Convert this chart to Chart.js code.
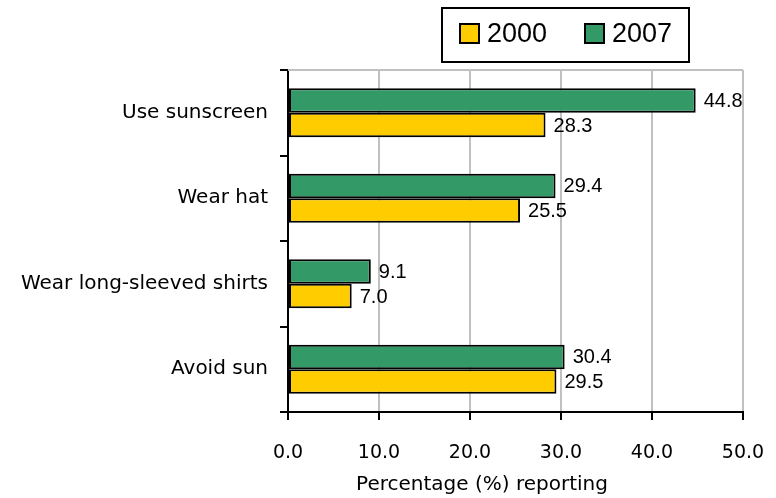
<!DOCTYPE html>
<html>
<head>
<meta charset="utf-8">
<script src="https://cdn.jsdelivr.net/npm/chart.js@4"></script>
<style>
  html, body { margin: 0; padding: 0; background: #fff; }
  #wrap { width: 776px; height: 498px; }
</style>
</head>
<body>
<div id="wrap"><canvas id="chart" width="776" height="498"></canvas></div>
<script>
// data
const categories = ['Use sunscreen', 'Wear hat', 'Wear long-sleeved shirts', 'Avoid sun'];
const years = ['2000', '2007'];
const values2000 = [28.3, 25.5, 7.0, 29.5];
const values2007 = [44.8, 29.4, 9.1, 30.4];
const xTicks = [0, 10, 20, 30, 40, 50];
const xTitle = 'Percentage (%) reporting';

const YELLOW = '#FFCC00';
const GREEN = '#339966';
const LABEL_FONT = 'DejaVu Sans';
const NUM_FONT = 'Liberation Sans';

// value labels at the end of each bar
const valueLabels = {
    id: 'valueLabels',
    afterDatasetsDraw(chart) {
        const ctx = chart.ctx;
        ctx.save();
        ctx.font = `20px "${NUM_FONT}"`;
        ctx.fillStyle = '#000';
        ctx.textBaseline = 'middle';
        ctx.textAlign = 'left';
        chart.data.datasets.forEach((ds, i) => {
            chart.getDatasetMeta(i).data.forEach((bar, j) => {
                ctx.fillText(ds.data[j].toFixed(1), bar.x + 8, bar.y + 1);
            });
        });
        ctx.restore();
    }
};

// boxed legend (2000 first) and the x axis title, which sits left of centre
const extras = {
    id: 'extras',
    afterDraw(chart) {
        const ctx = chart.ctx;
        ctx.save();
        ctx.strokeStyle = '#000';
        ctx.lineWidth = 2;
        ctx.strokeRect(442, 8, 247, 54);
        ctx.font = `27px "${NUM_FONT}"`;
        ctx.textBaseline = 'middle';
        const items = [
            { label: years[0], color: YELLOW, x: 460 },
            { label: years[1], color: GREEN, x: 585 }
        ];
        items.forEach(it => {
            ctx.fillStyle = it.color;
            ctx.fillRect(it.x, 24, 19, 19);
            ctx.strokeRect(it.x, 24, 19, 19);
            ctx.fillStyle = '#000';
            ctx.fillText(it.label, it.x + 27, 35);
        });

        ctx.font = `20px "${LABEL_FONT}"`;
        ctx.textAlign = 'center';
        ctx.fillText(xTitle, 482, 485);
        ctx.restore();
    }
};

// grey line along the top of the plot area
const topLine = {
    id: 'topLine',
    beforeDatasetsDraw(chart) {
        const { ctx, chartArea } = chart;
        ctx.save();
        ctx.strokeStyle = '#c0c0c0';
        ctx.lineWidth = 2;
        ctx.beginPath();
        ctx.moveTo(chartArea.left, chartArea.top);
        ctx.lineTo(chartArea.right, chartArea.top);
        ctx.stroke();
        ctx.restore();
    }
};

new Chart(document.getElementById('chart'), {
    type: 'bar',
    data: {
        labels: categories,
        datasets: [
            {
                label: years[1],
                data: values2007,
                backgroundColor: GREEN,
                borderColor: '#000',
                borderWidth: 2,
                borderSkipped: false,
                categoryPercentage: 0.575,
                barPercentage: 1
            },
            {
                label: years[0],
                data: values2000,
                backgroundColor: YELLOW,
                borderColor: '#000',
                borderWidth: 2,
                borderSkipped: false,
                categoryPercentage: 0.575,
                barPercentage: 1
            }
        ]
    },
    options: {
        indexAxis: 'y',
        responsive: false,
        animation: false,
        layout: { padding: { top: 70, right: 33, left: 0, bottom: 0 } },
        plugins: {
            legend: { display: false },
            tooltip: { enabled: false }
        },
        scales: {
            x: {
                min: 0,
                max: 50,
                afterBuildTicks(scale) {
                    scale.ticks = xTicks.map(v => ({ value: v }));
                },
                afterFit(scale) {
                    scale.height = 86;
                    scale.paddingLeft = 0;
                    scale.paddingRight = 0;
                },
                grid: {
                    color: '#c0c0c0',
                    lineWidth: 2,
                    tickColor: '#000',
                    tickLength: 8,
                    tickWidth: 2
                },
                border: { color: '#000', width: 2 },
                ticks: {
                    padding: 22,
                    color: '#000',
                    font: { family: LABEL_FONT, size: 19 },
                    callback: v => Number(v).toFixed(1)
                }
            },
            y: {
                afterFit(scale) { scale.width = 288; },
                grid: {
                    offset: true,
                    drawOnChartArea: false,
                    color: '#000',
                    lineWidth: 2,
                    tickLength: 8
                },
                border: { color: '#000', width: 2 },
                ticks: {
                    padding: 12,
                    color: '#000',
                    font: { family: LABEL_FONT, size: 20 }
                }
            }
        }
    },
    plugins: [topLine, valueLabels, extras]
});
</script>
</body>
</html>
